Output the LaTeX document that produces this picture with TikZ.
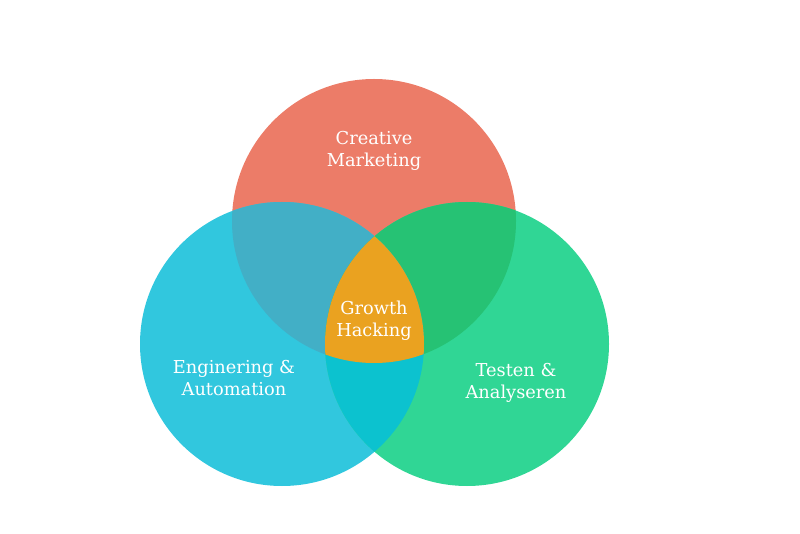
\documentclass[tikz,border=0pt]{standalone}
\usepackage{fontspec}
\setmainfont{DejaVu Serif}
\definecolor{cTop}{HTML}{EC7C68}
\definecolor{cLeft}{HTML}{31C7DE}
\definecolor{cRight}{HTML}{30D695}
\definecolor{cTL}{HTML}{42AFC6}
\definecolor{cTR}{HTML}{26C274}
\definecolor{cLR}{HTML}{0CC2CF}
\definecolor{cAll}{HTML}{EAA220}
\tikzset{lbl/.style={text=white,font=\fontsize{17.8}{22}\selectfont,align=center,inner sep=0pt}}
\begin{document}
\begin{tikzpicture}[x=1pt,y=-1pt]
\useasboundingbox (0,0) rectangle (800,534);
\def\r{142}
\coordinate (T) at (374,221);
\coordinate (L) at (282,344);
\coordinate (R) at (467,344);
\fill[cTop] (T) circle (\r);
\fill[cLeft] (L) circle (\r);
\fill[cRight] (R) circle (\r);
\begin{scope}
\clip (T) circle (\r);
\fill[cTL] (L) circle (\r);
\fill[cTR] (R) circle (\r);
\end{scope}
\begin{scope}
\clip (L) circle (\r);
\fill[cLR] (R) circle (\r);
\end{scope}
\begin{scope}
\clip (T) circle (\r);
\clip (L) circle (\r);
\fill[cAll] (R) circle (\r);
\end{scope}
\node[lbl] (cm) at (374,151) {Creative\\Marketing};
\node[lbl] (gh) at (374,321) {Growth\\Hacking};
\node[lbl] (ea) at (234,378) {Enginering \&\\Automation};
\node[lbl] (ta) at (516,383) {Testen \&\\Analyseren};
\end{tikzpicture}
\end{document}
